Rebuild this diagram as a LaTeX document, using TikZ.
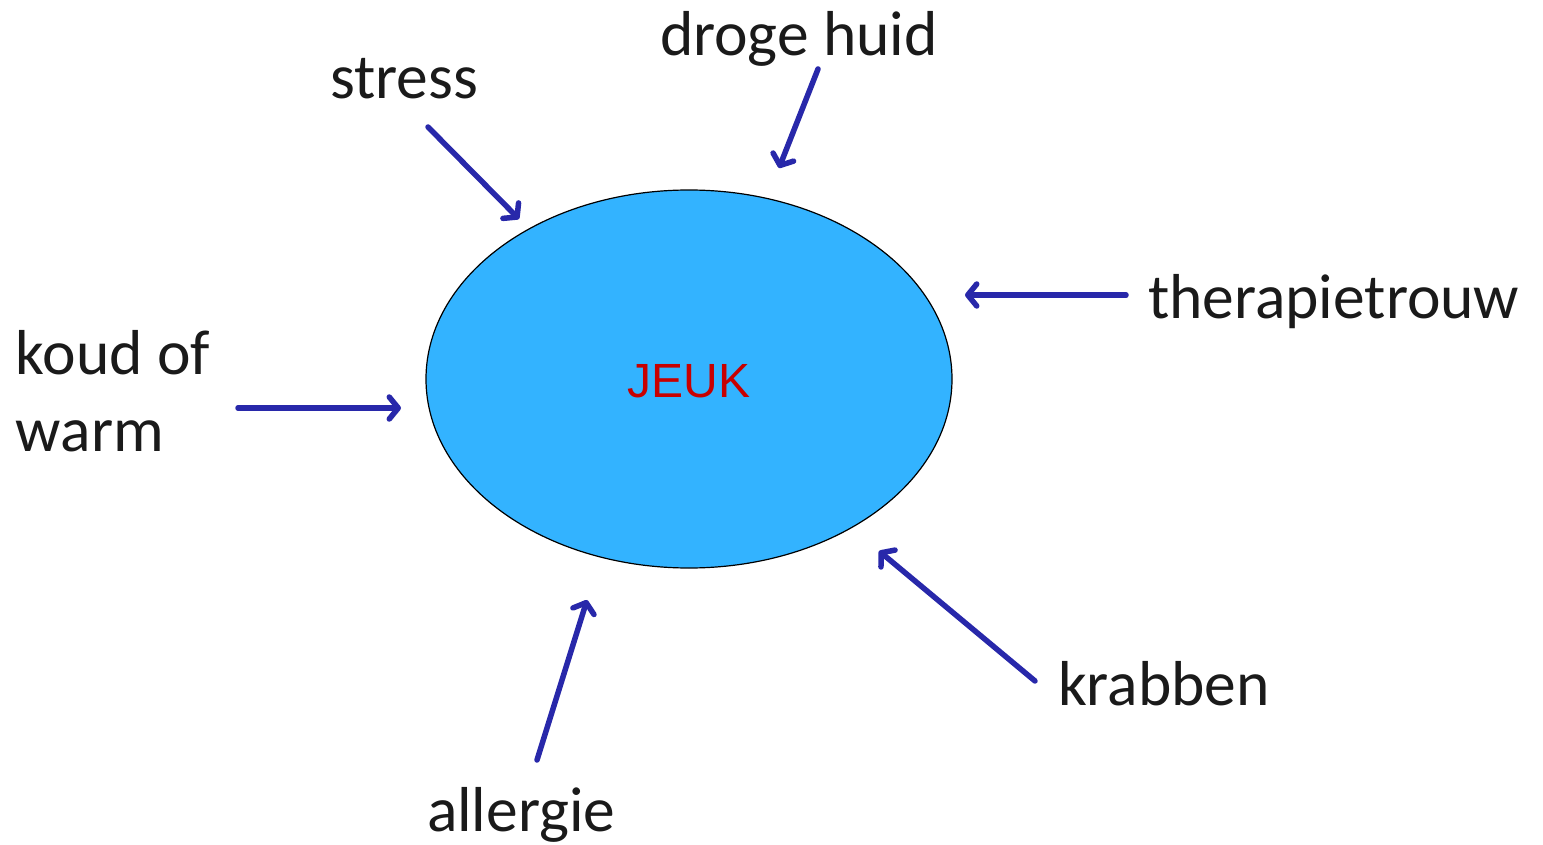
\documentclass[tikz,border=0pt]{standalone}
\usepackage{fontspec}
\setmainfont{Carlito}
\newfontfamily\arialfont{Liberation Sans}
\usetikzlibrary{shapes.geometric,arrows.meta}
\definecolor{arrowblue}{RGB}{40,40,170}
\definecolor{blobblue}{RGB}{51,179,255}
\definecolor{jeukred}{RGB}{200,0,0}
\definecolor{txt}{RGB}{26,26,26}
\begin{document}
\begin{tikzpicture}[x=1pt,y=-1pt,
  lbl/.style={anchor=base west,inner sep=0pt,outer sep=0pt,text=txt,font=\fontsize{63.5}{77}\selectfont},
  conn/.style={draw=arrowblue,line width=5.5pt,line cap=round,
    -{Straight Barb[length=9pt,width=22pt,round]},
    preaction={draw=black!20,opacity=0.6,transform canvas={shift={(2pt,-2pt)}}}},
  blob/.style={ellipse,draw=black,line width=1.2pt,fill=blobblue,minimum width=526pt,minimum height=378pt,inner sep=0pt}
]
\useasboundingbox (0,0) rectangle (1543,845);
\node[blob] (jeuk) at (689,379) {};
\node[anchor=base,inner sep=0pt,text=jeukred,font=\arialfont\fontsize{48}{58}\selectfont] (jeuklabel) at (689,397) {JEUK};

\node[lbl] (droge) at (660,56) {droge huid};
\node[lbl] (stress) at (330,99) {stress};
\node[lbl] (thera) at (1148,318) {therapietrouw};
\node[lbl] (koud) at (16,374) {koud of};
\node[lbl] (warm) at (16,451) {warm};
\node[lbl] (krabben) at (1058,705) {krabben};
\node[lbl] (allergie) at (427,831) {allergie};

\coordinate (d1) at (818,69);   \coordinate (d2) at (779,168);
\coordinate (s1) at (428,127);  \coordinate (s2) at (519,219);
\coordinate (t1) at (1126,295); \coordinate (t2) at (965,295);
\coordinate (k1) at (238,408);  \coordinate (k2) at (401,408);
\coordinate (b1) at (1035,681); \coordinate (b2) at (879,551);
\coordinate (a1) at (537,760);  \coordinate (a2) at (587,600);

\draw[conn] (d1) -- (d2);
\draw[conn] (s1) -- (s2);
\draw[conn] (t1) -- (t2);
\draw[conn] (k1) -- (k2);
\draw[conn] (b1) -- (b2);
\draw[conn] (a1) -- (a2);
\end{tikzpicture}
\end{document}
